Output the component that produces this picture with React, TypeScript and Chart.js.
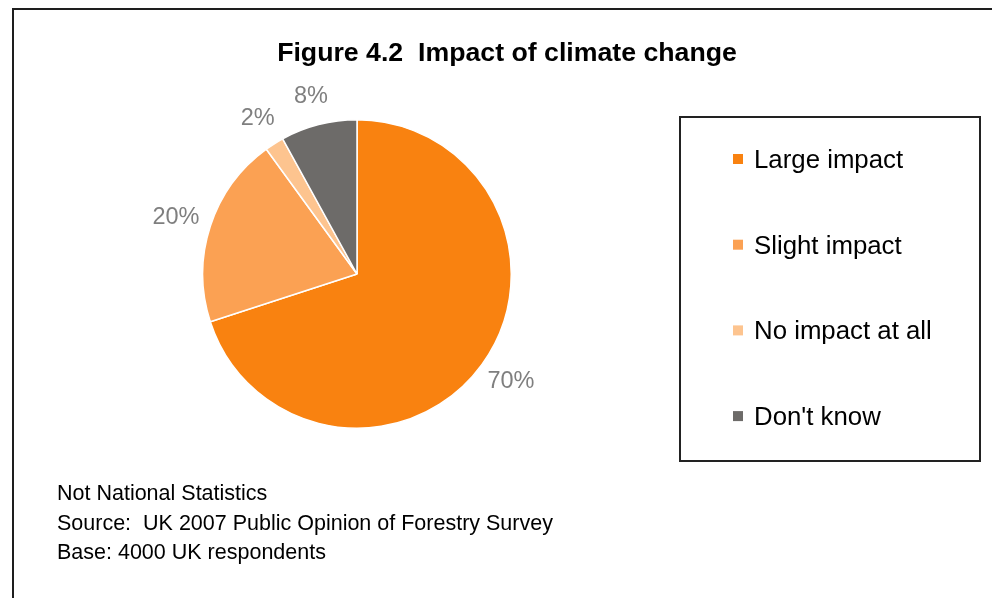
import React, { useEffect, useRef } from "react";
import { Chart, registerables } from "chart.js";

Chart.register(...registerables);

const categories = ["Large impact", "Slight impact", "No impact at all", "Don't know"];
const percentages = [70, 20, 2, 8];
const sliceColors = ["#F98210", "#FBA153", "#FDC48F", "#6D6B69"];
const titleText = "Figure 4.2  Impact of climate change";
const footnoteLines = [
  "Not National Statistics",
  "Source:  UK 2007 Public Opinion of Forestry Survey",
  "Base: 4000 UK respondents",
];

const FONT = "'Liberation Sans', Arial, sans-serif";

const framePlugin = {
  id: "frame",
  beforeDraw(chart: any) {
    const ctx = chart.ctx as CanvasRenderingContext2D;
    const W = chart.width;
    const H = chart.height;
    ctx.save();
    ctx.fillStyle = "#ffffff";
    ctx.fillRect(0, 0, W, H);
    // outer frame
    ctx.strokeStyle = "#1e1e1e";
    ctx.lineWidth = 2;
    ctx.strokeRect(13, 9, W + 40, H + 40);
    // title
    ctx.fillStyle = "#000000";
    ctx.font = `bold 26.7px ${FONT}`;
    ctx.textAlign = "center";
    ctx.textBaseline = "alphabetic";
    ctx.fillText(titleText, 507, 61);
    // footnotes
    ctx.font = `21.5px ${FONT}`;
    ctx.textAlign = "left";
    footnoteLines.forEach((line, i) => {
      ctx.fillText(line, 57, 500 + i * 29.5);
    });
    // legend box
    ctx.strokeStyle = "#222222";
    ctx.lineWidth = 2;
    ctx.strokeRect(680, 117, 300, 344);
    ctx.font = `25.8px ${FONT}`;
    const labels = chart.data.labels as string[];
    const bg = chart.data.datasets[0].backgroundColor as string[];
    labels.forEach((lab, i) => {
      const baseline = 168 + i * 85.7;
      ctx.fillStyle = bg[i];
      ctx.fillRect(733, baseline - 14, 10, 10);
      ctx.fillStyle = "#000000";
      ctx.fillText(lab, 754, baseline);
    });
    ctx.restore();
  },
};

const sliceLabelPlugin = {
  id: "sliceLabels",
  afterDatasetsDraw(chart: any) {
    const ctx = chart.ctx as CanvasRenderingContext2D;
    const meta = chart.getDatasetMeta(0);
    const data = chart.data.datasets[0].data as number[];
    ctx.save();
    ctx.font = `23.5px ${FONT}`;
    ctx.fillStyle = "#7F7F7F";
    ctx.textAlign = "center";
    ctx.textBaseline = "middle";
    meta.data.forEach((arc: any, i: number) => {
      const { x, y, startAngle, endAngle, outerRadius } = arc.getProps(
        ["x", "y", "startAngle", "endAngle", "outerRadius"],
        true
      );
      const mid = (startAngle + endAngle) / 2;
      const dx = Math.cos(mid);
      const dy = Math.sin(mid);
      const text = `${data[i]}%`;
      const w = ctx.measureText(text).width;
      const h = 23;
      const r = outerRadius + 18;
      const cx = x + r * dx + (dx * w) / 2.6;
      const cy = y + r * dy + (dy * h) / 2;
      ctx.fillText(text, cx, cy);
    });
    ctx.restore();
  },
};

export default function App() {
  const canvasRef = useRef<HTMLCanvasElement>(null);

  useEffect(() => {
    if (!canvasRef.current) return;
    const chart = new Chart(canvasRef.current, {
      type: "pie",
      data: {
        labels: categories,
        datasets: [
          {
            data: percentages,
            backgroundColor: sliceColors,
            borderColor: "#ffffff",
            borderWidth: 1.5,
            hoverOffset: 0,
          },
        ],
      },
      options: {
        responsive: false,
        maintainAspectRatio: false,
        animation: false,
        devicePixelRatio: 1,
        layout: { padding: { left: 202, right: 480, top: 119, bottom: 169 } },
        plugins: {
          legend: { display: false },
          title: { display: false },
          tooltip: { enabled: false },
        },
        events: [],
      },
      plugins: [framePlugin, sliceLabelPlugin],
    });
    return () => chart.destroy();
  }, []);

  return (
    <div style={{ position: "fixed", left: 0, top: 0, width: 992, height: 598 }}>
      <canvas ref={canvasRef} width={992} height={598} style={{ display: "block" }} />
    </div>
  );
}
